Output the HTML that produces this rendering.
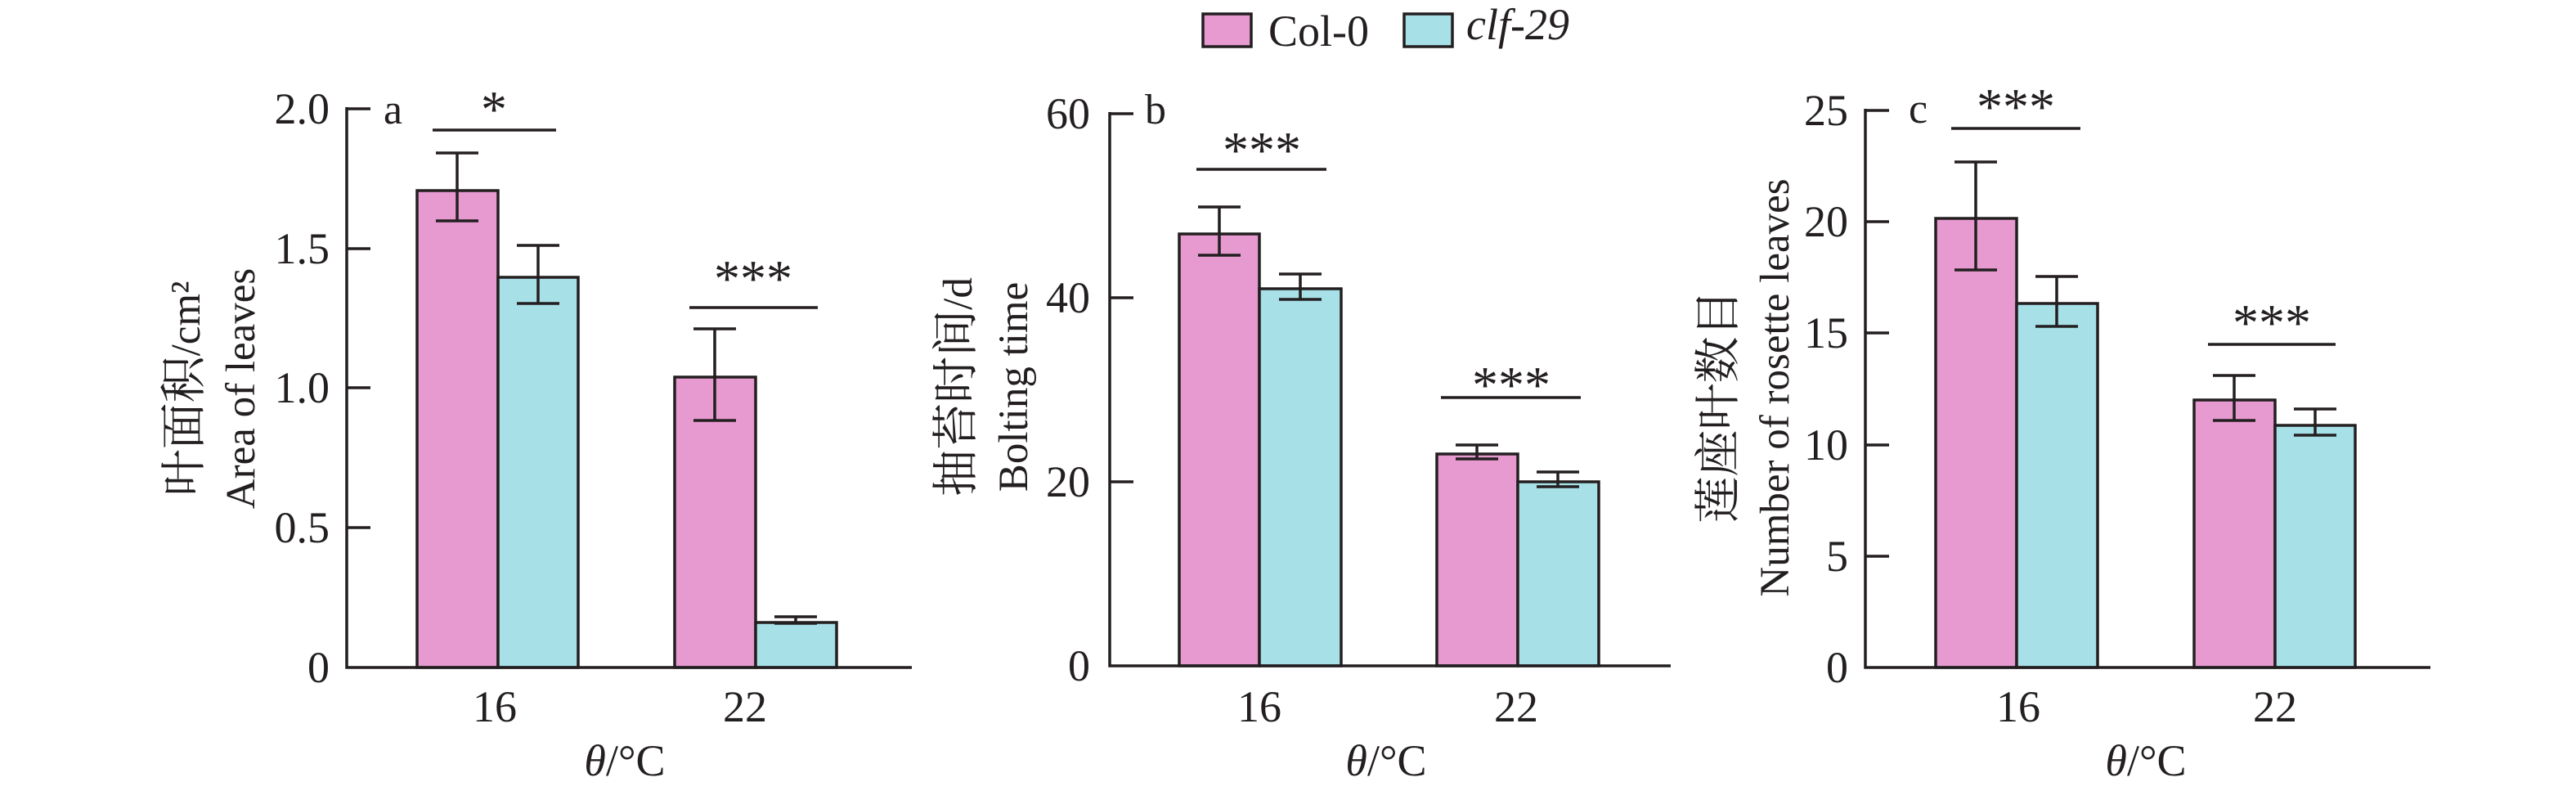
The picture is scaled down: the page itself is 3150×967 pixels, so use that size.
<!DOCTYPE html>
<html><head><meta charset="utf-8"><style>
html,body{margin:0;padding:0;background:#fff;}
svg{display:block;}
text{font-family:"Liberation Serif","Noto Serif CJK SC",serif;fill:#231f20;}
.t{font-size:54px;text-anchor:end;}
.x{font-size:54px;text-anchor:middle;}
.yl{font-size:51px;text-anchor:middle;}
.cj{font-size:57px;}
.st{font-size:64px;text-anchor:middle;}
.lb{font-size:52px;}
</style></head><body>
<svg width="3150" height="967" viewBox="0 0 3150 967" xmlns="http://www.w3.org/2000/svg">
<g stroke="#231f20" stroke-width="3.5" fill="none">
<rect x="1471" y="17" width="59" height="40" fill="#e69ad0"/>
<rect x="1717" y="17" width="59" height="40" fill="#a8e0e8"/>

<rect x="510" y="233" width="99" height="583" fill="#e69ad0"/>
<rect x="609" y="339" width="98" height="477" fill="#a8e0e8"/>
<rect x="825" y="461" width="99" height="355" fill="#e69ad0"/>
<rect x="924" y="761" width="99" height="55" fill="#a8e0e8"/>
<path d="M424 131V816H1115 M424 133H453 M424 304H453 M424 474H453 M424 645H453"/>
<path d="M559 187V270 M533 187H585 M533 270H585"/>
<path d="M658 300V371 M632 300H684 M632 371H684"/>
<path d="M874 402V514 M848 402H900 M848 514H900"/>
<path d="M973 754V762 M947 754H999 M947 762H999"/>
<path d="M529 159H680 M843 376H1000"/>

<rect x="1442" y="286" width="98" height="528" fill="#e69ad0"/>
<rect x="1540" y="353" width="100" height="461" fill="#a8e0e8"/>
<rect x="1757" y="555" width="99" height="259" fill="#e69ad0"/>
<rect x="1856" y="589" width="99" height="225" fill="#a8e0e8"/>
<path d="M1357 137V814H2043 M1357 139H1386 M1357 364H1386 M1357 589H1386"/>
<path d="M1491 253V312 M1465 253H1517 M1465 312H1517"/>
<path d="M1590 335V366 M1564 335H1616 M1564 366H1616"/>
<path d="M1806 544V561 M1780 544H1832 M1780 561H1832"/>
<path d="M1905 577V595 M1879 577H1931 M1879 595H1931"/>
<path d="M1463 207H1622 M1762 486H1933"/>

<rect x="2367" y="267" width="99" height="549" fill="#e69ad0"/>
<rect x="2466" y="371" width="99" height="445" fill="#a8e0e8"/>
<rect x="2683" y="489" width="99" height="327" fill="#e69ad0"/>
<rect x="2782" y="520" width="98" height="296" fill="#a8e0e8"/>
<path d="M2281 133V816H2972 M2281 135H2310 M2281 271H2310 M2281 407H2310 M2281 544H2310 M2281 680H2310"/>
<path d="M2416 198V330 M2390 198H2442 M2390 330H2442"/>
<path d="M2515 338V399 M2489 338H2541 M2489 399H2541"/>
<path d="M2732 459V514 M2706 459H2758 M2706 514H2758"/>
<path d="M2831 500V532 M2805 500H2857 M2805 532H2857"/>
<path d="M2386 157H2544 M2700 421H2856"/>
</g>

<text x="1551" y="56" style="font-size:54px">Col-0</text>
<text x="1793" y="48" style="font-size:54px;font-style:italic">clf-29</text>

<text class="t" x="403" y="151">2.0</text>
<text class="t" x="403" y="322">1.5</text>
<text class="t" x="403" y="492">1.0</text>
<text class="t" x="403" y="663">0.5</text>
<text class="t" x="403" y="834">0</text>
<text class="lb" x="469" y="151">a</text>
<text class="st" x="604" y="155">*</text>
<text class="st" x="921" y="362">***</text>
<text class="x" x="605" y="882">16</text>
<text class="x" x="911" y="882">22</text>
<text class="x" x="764" y="948" style="font-size:54px"><tspan font-style="italic">θ</tspan>/°C</text>
<text class="yl" transform="translate(244,475) rotate(-90)"><tspan class="cj">叶面积</tspan>/cm²</text>
<text class="yl" transform="translate(311,475) rotate(-90)">Area of leaves</text>

<text class="t" x="1333" y="157">60</text>
<text class="t" x="1333" y="382">40</text>
<text class="t" x="1333" y="607">20</text>
<text class="t" x="1333" y="832">0</text>
<text class="lb" x="1400" y="151">b</text>
<text class="st" x="1543" y="205">***</text>
<text class="st" x="1848" y="492">***</text>
<text class="x" x="1540" y="882">16</text>
<text class="x" x="1854" y="882">22</text>
<text class="x" x="1695" y="948" style="font-size:54px"><tspan font-style="italic">θ</tspan>/°C</text>
<text class="yl" transform="translate(1188,473) rotate(-90)"><tspan class="cj">抽苔时间</tspan>/d</text>
<text class="yl" transform="translate(1256,473) rotate(-90)">Bolting time</text>

<text class="t" x="2260" y="153">25</text>
<text class="t" x="2260" y="289">20</text>
<text class="t" x="2260" y="425">15</text>
<text class="t" x="2260" y="562">10</text>
<text class="t" x="2260" y="698">5</text>
<text class="t" x="2260" y="834">0</text>
<text class="lb" x="2334" y="150">c</text>
<text class="st" x="2465" y="152">***</text>
<text class="st" x="2778" y="416">***</text>
<text class="x" x="2468" y="882">16</text>
<text class="x" x="2782" y="882">22</text>
<text class="x" x="2624" y="948" style="font-size:54px"><tspan font-style="italic">θ</tspan>/°C</text>
<text class="yl" transform="translate(2120,497) rotate(-90)"><tspan class="cj">莲座叶数目</tspan></text>
<text class="yl" transform="translate(2187,474) rotate(-90)">Number of rosette leaves</text>
</svg>
</body></html>
